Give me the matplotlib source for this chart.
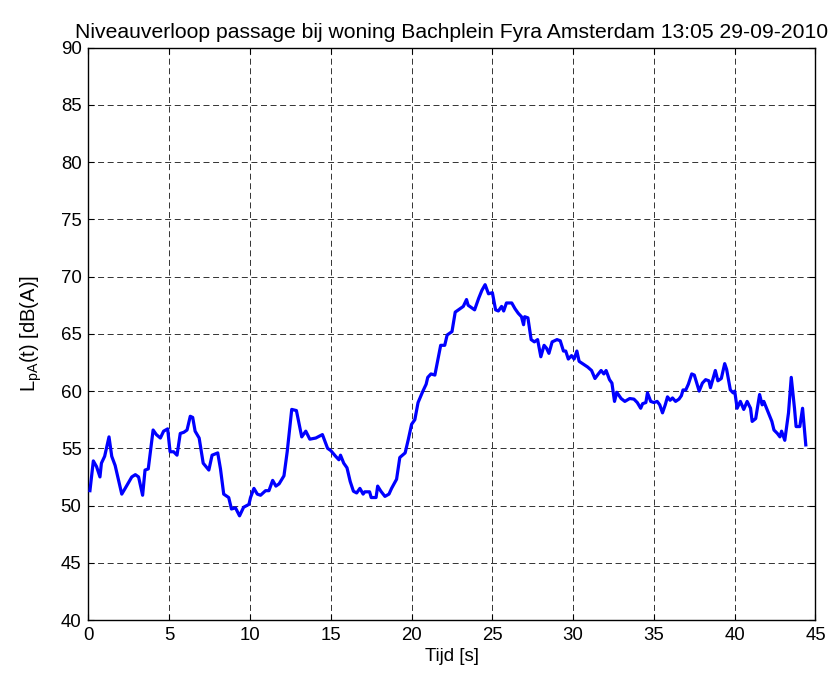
import matplotlib
matplotlib.use("Agg")
import matplotlib.pyplot as plt

t = [0.09, 0.3, 0.5, 0.71, 0.8, 1.0, 1.27, 1.44, 1.65, 2.06, 2.27, 2.68, 2.9, 3.1, 3.35, 3.5, 3.7,
     4.0, 4.2, 4.45, 4.65, 4.9, 5.05, 5.27, 5.48, 5.68, 5.9, 6.1, 6.3, 6.45, 6.6, 6.85, 7.1, 7.45,
     7.65, 8.0, 8.17, 8.37, 8.68, 8.85, 9.1, 9.35, 9.6, 9.93, 10.03, 10.24, 10.45, 10.65, 10.96,
     11.17, 11.4, 11.6, 11.8, 12.1, 12.3, 12.58, 12.87, 13.2, 13.45, 13.7, 14.07, 14.48, 14.8,
     15.0, 15.3, 15.5, 15.6, 15.8, 16.0, 16.2, 16.4, 16.6, 16.8, 17.0, 17.1, 17.4, 17.5, 17.8,
     17.9, 18.1, 18.35, 18.6, 18.76, 19.07, 19.27, 19.6, 19.8, 20.0, 20.2, 20.4, 20.7, 20.9, 21.0,
     21.2, 21.44, 21.8, 22.05, 22.2, 22.5, 22.7, 23.0, 23.2, 23.4, 23.5, 23.7, 23.9, 24.15, 24.35,
     24.55, 24.76, 25.0, 25.2, 25.37, 25.57, 25.7, 25.87, 26.2, 26.4, 26.6, 26.8, 26.93, 27.0,
     27.2, 27.4, 27.6, 27.8, 28.0, 28.2, 28.35, 28.5, 28.7, 29.0, 29.2, 29.4, 29.54, 29.7, 29.9,
     30.06, 30.23, 30.37, 30.58, 30.9, 31.14, 31.35, 31.56, 31.73, 31.9, 32.04, 32.25, 32.4,
     32.56, 32.7, 32.97, 33.2, 33.5, 33.76, 33.97, 34.18, 34.3, 34.5, 34.6, 34.8, 35.0, 35.2,
     35.36, 35.53, 35.7, 35.84, 36.0, 36.15, 36.34, 36.55, 36.7, 36.8, 36.97, 37.13, 37.34, 37.5,
     37.65, 37.8, 38.0, 38.2, 38.4, 38.5, 38.8, 38.96, 39.17, 39.38, 39.5, 39.73, 39.9, 40.0,
     40.15, 40.35, 40.56, 40.77, 40.98, 41.08, 41.3, 41.54, 41.7, 41.8, 42.0, 42.3, 42.43, 42.64,
     42.8, 42.9, 43.1, 43.33, 43.5, 43.7, 43.8, 44.03, 44.2, 44.4]
level = [51.3, 53.9, 53.4, 52.5, 53.7, 54.3, 56.0, 54.3, 53.5, 51.0, 51.5, 52.5, 52.7, 52.5, 50.9,
         53.1, 53.2, 56.6, 56.2, 55.9, 56.5, 56.7, 54.7, 54.7, 54.4, 56.3, 56.4, 56.6, 57.8, 57.7,
         56.5, 55.9, 53.7, 53.1, 54.4, 54.6, 53.2, 51.0, 50.7, 49.7, 49.8, 49.1, 49.85, 50.1, 50.7,
         51.5, 51.0, 50.9, 51.3, 51.3, 52.2, 51.7, 51.9, 52.6, 54.7, 58.4, 58.3, 56.0, 56.5, 55.8,
         55.9, 56.2, 55.0, 54.8, 54.3, 54.0, 54.4, 53.7, 53.3, 52.1, 51.25, 51.1, 51.5, 51.0, 51.2,
         51.2, 50.7, 50.7, 51.7, 51.25, 50.8, 51.0, 51.5, 52.3, 54.2, 54.6, 55.8, 57.1, 57.5, 59.0,
         60.0, 60.6, 61.2, 61.5, 61.4, 64.0, 64.0, 64.9, 65.2, 66.9, 67.2, 67.4, 68.0, 67.5, 67.3,
         67.1, 68.1, 68.8, 69.3, 68.5, 68.6, 67.1, 67.0, 67.4, 67.0, 67.7, 67.7, 67.2, 66.8, 66.5,
         65.8, 66.5, 66.4, 64.5, 64.3, 64.5, 63.0, 64.0, 63.75, 63.3, 64.3, 64.5, 64.4, 63.5, 63.5,
         62.8, 63.1, 62.8, 63.5, 62.6, 62.4, 62.1, 61.8, 61.1, 61.5, 61.8, 61.5, 61.8, 61.0, 60.7,
         59.1, 59.9, 59.35, 59.1, 59.35, 59.3, 59.0, 58.5, 58.9, 59.0, 59.85, 59.1, 59.0, 59.1, 58.8,
         58.1, 58.8, 59.5, 59.2, 59.4, 59.1, 59.3, 59.6, 60.1, 60.1, 60.6, 61.5, 61.4, 60.7, 60.0,
         60.7, 61.0, 60.9, 60.3, 61.8, 60.9, 61.1, 62.4, 61.9, 60.1, 59.85, 60.0, 58.5, 59.1, 58.4,
         59.1, 58.5, 57.35, 57.6, 59.7, 58.8, 59.1, 58.4, 57.35, 56.6, 56.3, 56.0, 56.5, 55.7, 58.1,
         61.2, 58.5, 56.9, 56.9, 58.5, 55.3]

xticks = list(range(0, 50, 5))
yticks = list(range(40, 95, 5))

plt.rcParams['font.family'] = ['Liberation Sans', 'DejaVu Sans']
plt.rcParams['lines.scale_dashes'] = False
plt.rcParams['mathtext.fontset'] = 'custom'
plt.rcParams['mathtext.rm'] = 'Liberation Sans'
fig = plt.figure(figsize=(8.34, 6.82), dpi=100)
ax = fig.add_axes([0.1061, 0.0909, 0.8717, 0.8391])
ax.plot(t, level, color=(0, 0, 1), linewidth=2.3, zorder=3)
ax.set_xlim(0, 45)
ax.set_ylim(40, 90)
ax.set_xticks(xticks)
ax.set_yticks(yticks)
ax.tick_params(direction='in', labelsize=13.4, length=4, width=0.8, top=True, right=True, pad=5)
ax.grid(True, color='#333333', linestyle=(0, (4.3, 2.6)), linewidth=0.7)
for s in ax.spines.values():
    s.set_linewidth(1.0)
ax.set_title('Niveauverloop passage bij woning Bachplein Fyra Amsterdam 13:05 29-09-2010',
             fontsize=15.2, pad=7)
ax.set_xlabel('Tijd [s]', fontsize=13.4, labelpad=3)
ax.set_ylabel(r'L$_{\mathregular{pA}}$(t) [dB(A)]', fontsize=14.5, labelpad=12)
fig.savefig('out.png', dpi=100)
